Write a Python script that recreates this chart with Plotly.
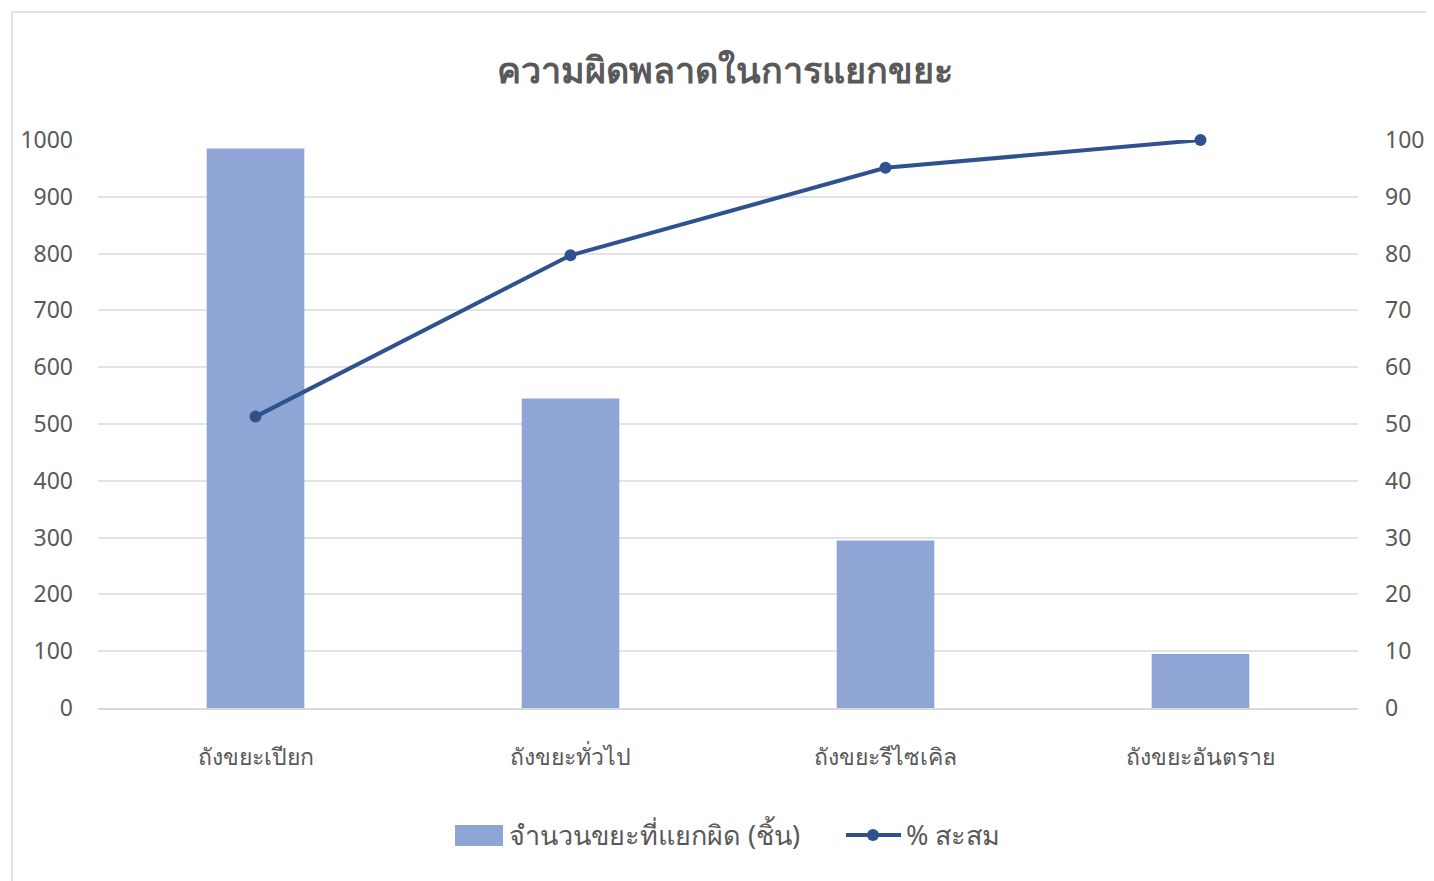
import plotly.graph_objects as go

categories = ["ถังขยะเปียก", "ถังขยะทั่วไป", "ถังขยะรีไซเคิล", "ถังขยะอันตราย"]
counts = [985, 545, 295, 95]
cum_pct = [51.3, 79.7, 95.1, 100]

title_text = "ความผิดพลาดในการแยกขยะ"
bar_name = "จำนวนขยะที่แยกผิด (ชิ้น)"
line_name = "% สะสม"

FONT = "Noto Sans, DejaVu Sans, sans-serif"
GRAY = "#595959"
BAR_COLOR = "#8FA5D6"
LINE_COLOR = "#2F528F"

L, R, T, B = 90, 84, 132, 181
PW, PH = 1434 - L - R, 881 - T - B


def px_x(sx):
    return (sx - 8 - L) / PW


def px_y(sy):
    return (T + PH - (sy - 8)) / PH


fig = go.Figure()
fig.add_trace(go.Bar(
    x=categories, y=counts, name=bar_name,
    marker=dict(color=BAR_COLOR, line=dict(width=0)),
    width=0.31, yaxis="y", showlegend=False,
))
fig.add_trace(go.Scatter(
    x=categories, y=cum_pct, name=line_name, mode="lines+markers",
    line=dict(color=LINE_COLOR, width=4),
    marker=dict(size=12, color=LINE_COLOR),
    yaxis="y2", cliponaxis=False, showlegend=False,
))

shapes = [
    dict(type="rect", xref="paper", yref="paper", x0=px_x(12), x1=px_x(1432), y0=px_y(900), y1=px_y(12),
         line=dict(color="#D9D9D9", width=1.5), fillcolor="rgba(0,0,0,0)", layer="below"),
    # legend: bar swatch
    dict(type="rect", xref="paper", yref="paper", x0=px_x(455), x1=px_x(503), y0=px_y(846), y1=px_y(825),
         line=dict(width=0), fillcolor=BAR_COLOR),
    # legend: line swatch
    dict(type="line", xref="paper", yref="paper", x0=px_x(846), x1=px_x(901), y0=px_y(835), y1=px_y(835),
         line=dict(color=LINE_COLOR, width=4)),
    dict(type="circle", xref="paper", yref="paper", x0=px_x(867), x1=px_x(879), y0=px_y(841), y1=px_y(829),
         line=dict(width=0), fillcolor=LINE_COLOR),
]

annotations = [
    dict(text=bar_name, xref="paper", yref="paper", x=px_x(507), y=px_y(834), xanchor="left", yanchor="middle",
         showarrow=False, font=dict(family=FONT, size=27, color=GRAY)),
    dict(text=line_name, xref="paper", yref="paper", x=px_x(904), y=px_y(834), xanchor="left", yanchor="middle",
         showarrow=False, font=dict(family=FONT, size=27, color=GRAY)),
]

fig.update_layout(
    width=1434, height=881,
    paper_bgcolor="white", plot_bgcolor="white",
    margin=dict(l=L, r=R, t=T, b=B),
    title=dict(text="<b>" + title_text + "</b>", x=px_x(725), xref="paper", xanchor="center",
               y=1 - (70 - 8) / 881, yanchor="middle",
               font=dict(family=FONT, size=36, color=GRAY)),
    font=dict(family=FONT, color=GRAY, size=20),
    showlegend=False,
    xaxis=dict(showgrid=False, showline=True, linecolor="#D9D9D9", linewidth=1.5,
               ticks="", ticklabelstandoff=28, tickfont=dict(size=23, color=GRAY)),
    yaxis=dict(range=[0, 1000], dtick=100, showgrid=True, gridcolor="#E3E3E3", gridwidth=1.5,
               zeroline=False, showline=False, ticks="", ticklabelstandoff=24,
               tickfont=dict(size=23, color=GRAY)),
    yaxis2=dict(range=[0, 100], dtick=10, overlaying="y", side="right", showgrid=False,
                zeroline=False, showline=False, ticks="", ticklabelstandoff=26,
                tickfont=dict(size=23, color=GRAY)),
    bargap=0.69,
    shapes=shapes,
    annotations=annotations,
)

fig.write_html("out.html")
